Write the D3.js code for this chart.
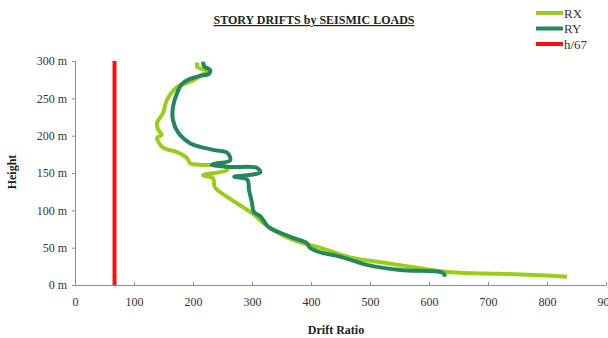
<!DOCTYPE html>
<html>
<head>
<meta charset="utf-8">
<script src="https://cdn.jsdelivr.net/npm/d3@7"></script>
<style>
  body { margin: 0; background: #fff; }
  svg { display: block; font-family: "Liberation Serif", "Times New Roman", serif; }
</style>
</head>
<body>
<div id="container"></div>
<script>
// story drift curves (drift ratio vs height in m)
var heightRX = [298, 292, 287, 280, 274, 265, 248, 230, 217, 208, 201, 197, 192, 184, 178, 170, 163, 161, 159, 154,
                147, 143, 131, 118, 104, 98, 91, 83, 74, 64, 56, 50, 37, 30, 23, 17, 15, 13, 11];
var driftRX = [208, 207, 225, 212, 200, 173, 156, 149, 139, 141, 147, 139, 141, 149, 173, 190, 195, 212, 254, 258,
               217, 234, 237, 258, 285, 297, 308, 319, 336, 359, 386, 415, 466, 522, 580, 636, 720, 788, 834];

var heightRY = [299, 293, 288, 283, 280, 276, 269, 257, 238, 221, 204, 190, 181, 177, 167, 163, 161, 158, 157, 151,
                147, 145, 141, 127, 110, 98, 92, 87, 80, 76, 70, 63, 56, 50, 44, 38, 27, 20, 16, 11];
var driftRY = [217, 219, 229, 227, 212, 195, 181, 173, 166, 166, 175, 195, 234, 258, 263, 241, 232, 263, 308, 314,
               292, 270, 292, 295, 300, 303, 314, 319, 325, 331, 348, 370, 393, 398, 415, 449, 495, 551, 624, 627];

var limitDrift = 67,
    limitHeights = [0, 300];

var xTicks = [0, 100, 200, 300, 400, 500, 600, 700, 800, 900],
    yTicks = [0, 50, 100, 150, 200, 250, 300];

var seriesNames = ['RX', 'RY', 'h/67'],
    seriesColors = ['#9acd1a', '#23875c', '#ff0d0d'];

var width = 608,
    height = 338;

var svg = d3.select('div#container')
    .append('svg')
    .attr('width', width)
    .attr('height', height);

var x = d3.scaleLinear().domain([0, 900]).range([75, 606]);
var y = d3.scaleLinear().domain([0, 300]).range([285, 61]);

// axes
var xAxis = svg.append('g')
    .attr('transform', 'translate(0,285)')
    .call(d3.axisBottom(x).tickValues(xTicks).tickSizeInner(-3).tickSizeOuter(0).tickPadding(12));
var yAxis = svg.append('g')
    .attr('transform', 'translate(75,0)')
    .call(d3.axisLeft(y).tickValues(yTicks).tickSize(3).tickPadding(5)
        .tickFormat(function(d) { return d + ' m'; }));

[xAxis, yAxis].forEach(function(a) {
    a.selectAll('path, line').attr('stroke', '#8c8c8c');
    a.selectAll('text')
        .attr('fill', '#333')
        .style('font-family', '"Liberation Serif", serif')
        .style('font-size', '12px');
});

// h/67 limit
svg.append('line')
    .attr('x1', x(limitDrift)).attr('x2', x(limitDrift))
    .attr('y1', y(limitHeights[0])).attr('y2', y(limitHeights[1]))
    .attr('stroke', seriesColors[2])
    .attr('stroke-width', 4);

var line = d3.line()
    .x(function(d) { return x(d[0]); })
    .y(function(d) { return y(d[1]); })
    .curve(d3.curveCatmullRom.alpha(0.5));

var rx = d3.zip(driftRX, heightRX),
    ry = d3.zip(driftRY, heightRY);

svg.append('path')
    .datum(rx)
    .attr('d', line)
    .attr('fill', 'none')
    .attr('stroke', seriesColors[0])
    .attr('stroke-width', 4)
    .attr('stroke-linejoin', 'round');

svg.append('path')
    .datum(ry)
    .attr('d', line)
    .attr('fill', 'none')
    .attr('stroke', seriesColors[1])
    .attr('stroke-width', 4)
    .attr('stroke-linejoin', 'round');

// titles
svg.append('text')
    .attr('x', 314)
    .attr('y', 24)
    .attr('text-anchor', 'middle')
    .style('font-size', '12px')
    .style('font-weight', 'bold')
    .style('text-decoration', 'underline')
    .attr('fill', '#222')
    .text('STORY DRIFTS by SEISMIC LOADS');

svg.append('text')
    .attr('x', 336)
    .attr('y', 334)
    .attr('text-anchor', 'middle')
    .style('font-size', '12px')
    .style('font-weight', 'bold')
    .attr('fill', '#222')
    .text('Drift Ratio');

svg.append('text')
    .attr('transform', 'translate(16,172) rotate(-90)')
    .attr('text-anchor', 'middle')
    .style('font-size', '12px')
    .style('font-weight', 'bold')
    .attr('fill', '#222')
    .text('Height');

// legend
var legend = svg.append('g').selectAll('g')
    .data(seriesNames)
    .enter().append('g')
    .attr('transform', function(d, i) { return 'translate(536,' + (13 + i * 15.5) + ')'; });

legend.append('line')
    .attr('x1', 0).attr('x2', 27)
    .attr('stroke', function(d, i) { return seriesColors[i]; })
    .attr('stroke-width', 4);

legend.append('text')
    .attr('x', 28)
    .attr('dy', '0.35em')
    .style('font-size', '13px')
    .attr('fill', '#333')
    .text(function(d) { return d; });
</script>
</body>
</html>
